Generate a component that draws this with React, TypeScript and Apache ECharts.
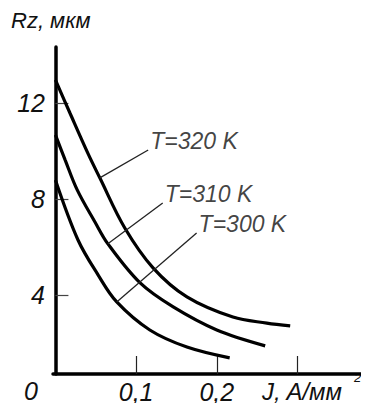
import React, { useEffect, useRef } from "react";
import * as echarts from "echarts";

// Current density J, A/mm^2 (x) and roughness Rz, um (y) for each temperature
const T320_X = [0, 0.018, 0.04, 0.055, 0.086, 0.121, 0.163, 0.22, 0.262, 0.291];
const T320_Y = [12.96, 11.58, 9.92, 8.88, 6.79, 5.13, 3.92, 3.08, 2.83, 2.71];
const T310_X = [0, 0.012, 0.027, 0.049, 0.065, 0.105, 0.146, 0.2, 0.26];
const T310_Y = [10.67, 9.63, 8.38, 7.04, 6.13, 4.5, 3.5, 2.54, 1.88];
const T300_X = [0, 0.028, 0.053, 0.076, 0.117, 0.163, 0.216];
const T300_Y = [8.79, 6.29, 4.83, 3.71, 2.54, 1.83, 1.38];

const SERIES_NAMES = ["T=320 K", "T=310 K", "T=300 K"];
// Leader lines from curve to label: [x0, y0, x1, y1]
const LEADERS = [
  [0.055, 8.88, 0.115, 10.04],
  [0.065, 6.13, 0.133, 7.83],
  [0.076, 3.71, 0.175, 6.58],
];
const Y_TICKS = [4, 8, 12];
const X_TICKS = [0.1, 0.2, 0.3];
const X_LABELS = [0.1, 0.2];

const FONT = "'Liberation Sans', Arial, sans-serif";

function zip(xs: number[], ys: number[]) {
  return xs.map((x, i) => [x, ys[i]]);
}

export default function App() {
  const ref = useRef<HTMLDivElement>(null);
  useEffect(() => {
    if (!ref.current) return;
    const chart = echarts.init(ref.current, undefined, { renderer: "svg" });
    const curves = [zip(T320_X, T320_Y), zip(T310_X, T310_Y), zip(T300_X, T300_Y)];
    chart.setOption({
      animation: false,
      backgroundColor: "#ffffff",
      grid: { left: 53, right: 7, top: 47, bottom: 37 },
      xAxis: {
        type: "value",
        min: -0.003,
        max: 0.38,
        splitLine: { show: false },
        axisLine: { show: true, lineStyle: { color: "#000", width: 3.5 } },
        axisTick: {
          show: true,
          inside: true,
          length: 18,
          customValues: X_TICKS,
          lineStyle: { color: "#222", width: 1.2 },
        },
        axisLabel: {
          customValues: X_LABELS,
          margin: 5,
          fontFamily: FONT,
          fontStyle: "italic",
          fontSize: 25,
          color: "#111",
          formatter: (v: number) => String(v).replace(".", ","),
        },
      },
      yAxis: {
        type: "value",
        min: 0.708,
        max: 14.33,
        splitLine: { show: false },
        axisLine: { show: true, lineStyle: { color: "#000", width: 3.5 } },
        axisTick: {
          show: true,
          inside: true,
          length: 13,
          customValues: Y_TICKS,
          lineStyle: { color: "#444", width: 1.2 },
        },
        axisLabel: {
          customValues: Y_TICKS,
          margin: 8,
          fontFamily: FONT,
          fontStyle: "italic",
          fontSize: 25,
          color: "#111",
        },
      },
      series: [
        ...curves.map((d, i) => ({
          type: "line",
          name: SERIES_NAMES[i],
          data: d,
          smooth: 0.35,
          symbol: "none",
          lineStyle: { color: "#000", width: 3.2 },
        })),
        ...LEADERS.map((l) => ({
          type: "line",
          data: [
            [l[0], l[1]],
            [l[2], l[3]],
          ],
          symbol: "none",
          lineStyle: { color: "#222", width: 1.3 },
          label: { show: false },
        })),
        {
          type: "scatter",
          data: LEADERS.map((l, i) => ({ value: [l[2], l[3]], name: SERIES_NAMES[i] })),
          symbolSize: 0,
          label: {
            show: true,
            position: "right",
            distance: 2,
            offset: [0, -9],
            formatter: (p: any) => p.name,
            fontFamily: FONT,
            fontStyle: "italic",
            fontSize: 23,
            color: "#111",
          },
        },
      ],
      graphic: [
        {
          type: "text",
          left: 11,
          top: 9,
          style: {
            text: "Rz, мкм",
            fontFamily: FONT,
            fontStyle: "italic",
            fontSize: 22,
            fill: "#111",
          },
        },
        {
          type: "text",
          left: 24,
          top: 378,
          style: {
            text: "0",
            fontFamily: FONT,
            fontStyle: "italic",
            fontSize: 25,
            fill: "#111",
          },
        },
        {
          type: "text",
          left: 262,
          top: 379,
          style: {
            text: "J, A/мм",
            fontFamily: FONT,
            fontStyle: "italic",
            fontSize: 24,
            fill: "#111",
          },
        },
        {
          type: "text",
          left: 354,
          top: 371,
          style: {
            text: "2",
            fontFamily: FONT,
            fontStyle: "italic",
            fontSize: 13,
            fill: "#111",
          },
        },
      ],
    });
    return () => chart.dispose();
  }, []);
  return <div ref={ref} style={{ width: 369, height: 411, margin: -8 }} />;
}
